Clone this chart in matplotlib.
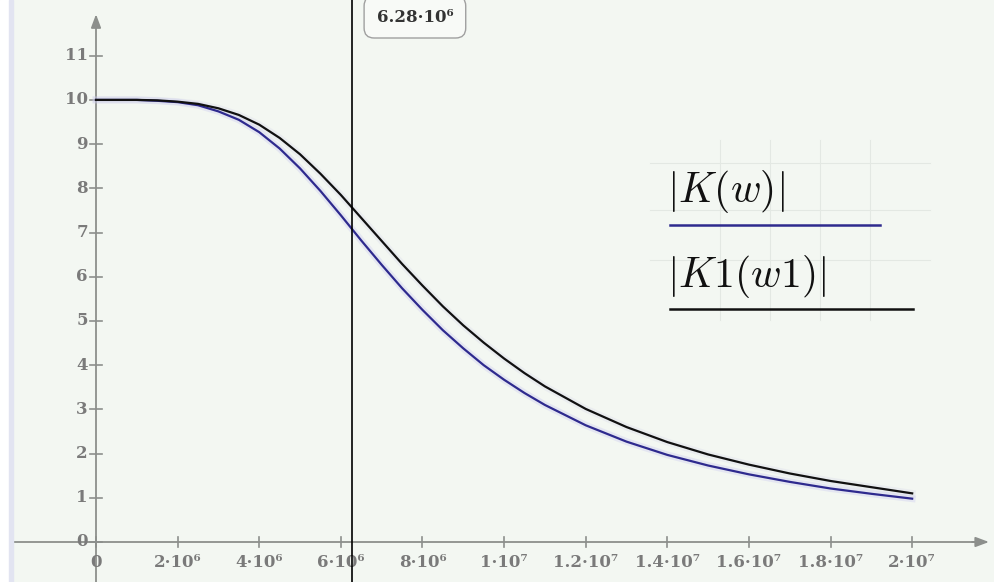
import matplotlib
matplotlib.use("Agg")
import matplotlib.pyplot as plt
from matplotlib.patches import Rectangle
from matplotlib.lines import Line2D

plt.rcParams['mathtext.fontset'] = 'cm'

# frequency grid (rad/s) and the two magnitude responses
w = [0, 1e6, 1.5e6, 2e6, 2.5e6, 3e6, 3.5e6, 4e6, 4.5e6, 5e6, 5.5e6, 6e6,
     6.5e6, 7e6, 7.5e6, 8e6, 8.5e6, 9e6, 9.5e6, 10e6, 10.5e6, 11e6, 12e6,
     13e6, 14e6, 15e6, 16e6, 17e6, 18e6, 19e6, 20e6]
K_w = [10.0, 10.0, 9.98, 9.95, 9.88, 9.74, 9.55, 9.27, 8.90, 8.45, 7.94, 7.39,
       6.82, 6.27, 5.74, 5.25, 4.79, 4.38, 4.00, 3.67, 3.37, 3.10, 2.64,
       2.27, 1.97, 1.73, 1.53, 1.36, 1.21, 1.09, 0.98]
K1_w1 = [10.0, 10.0, 9.99, 9.96, 9.91, 9.81, 9.66, 9.44, 9.14, 8.77, 8.33,
         7.85, 7.33, 6.81, 6.29, 5.80, 5.33, 4.90, 4.51, 4.15, 3.82, 3.52,
         3.01, 2.60, 2.26, 1.98, 1.75, 1.55, 1.38, 1.24, 1.10]

x_ticks = [0, 2e6, 4e6, 6e6, 8e6, 1e7, 1.2e7, 1.4e7, 1.6e7, 1.8e7, 2e7]
x_labels = ["0", "2·10⁶", "4·10⁶", "6·10⁶", "8·10⁶", "1·10⁷", "1.2·10⁷",
            "1.4·10⁷", "1.6·10⁷", "1.8·10⁷", "2·10⁷"]
y_ticks = list(range(12))
cursor_w = 6.28e6
cursor_label = "6.28·10⁶"

bg = "#f3f7f2"
axis_gray = "#8c8f8c"
label_gray = "#7a7a7a"
blue = "#2e2a8e"

fig = plt.figure(figsize=(9.95, 5.82), dpi=100, facecolor=bg)
ax = fig.add_axes([0, 0, 1, 1])
ax.set_xlim(-2.353e6, 22.03e6)
ax.set_ylim(-0.905, 12.26)
ax.axis('off')

# white margin and faint stripe at the left edge
fig.patches.append(Rectangle((0, 0), 9 / 995, 1, transform=fig.transFigure,
                             color="white", zorder=0))
fig.patches.append(Rectangle((9 / 995, 0), 4 / 995, 1, transform=fig.transFigure,
                             color="#e2e4f1", zorder=0))

# axes with arrows
ax.plot([-2.03e6, 21.6e6], [0, 0], color=axis_gray, lw=1.3, zorder=1)
ax.plot([0, 0], [-0.9, 11.7], color=axis_gray, lw=1.3, zorder=1)
ax.annotate("", xy=(21.95e6, 0), xytext=(21.4e6, 0),
            arrowprops=dict(arrowstyle="-|>,head_length=0.8,head_width=0.3",
                            color=axis_gray, lw=1.3))
ax.annotate("", xy=(0, 12.0), xytext=(0, 11.6),
            arrowprops=dict(arrowstyle="-|>,head_length=0.8,head_width=0.3",
                            color=axis_gray, lw=1.3))
ax.plot([-2.03e6, -2.03e6], [-0.1, 0.1], color=axis_gray, lw=1.2)

tick_font = dict(family="DejaVu Serif", fontweight="bold", fontsize=12,
                 color=label_gray)
for xt, lab in zip(x_ticks, x_labels):
    ax.plot([xt, xt], [-0.12, 0.12], color=axis_gray, lw=1.2)
    ax.text(xt, -0.47, lab, ha="center", va="center", **tick_font)
for yt in y_ticks:
    ax.plot([-0.15e6, 0.15e6], [yt, yt], color=axis_gray, lw=1.2)
    ax.text(-0.2e6, yt, str(yt), ha="right", va="center", **tick_font)

# soft halo then the curves
ax.plot(w, K_w, color="#c8c8f0", lw=5, alpha=0.35, zorder=2)
ax.plot(w, K1_w1, color="#d0d0e8", lw=5, alpha=0.25, zorder=2)
ax.plot(w, K_w, color=blue, lw=1.6, zorder=3)
ax.plot(w, K1_w1, color="#111111", lw=1.6, zorder=3)

# vertical cursor with its value tag
ax.axvline(cursor_w, color="black", lw=1.2, zorder=4)
ax.text(0.417, 1 - 17 / 582, cursor_label, transform=ax.transAxes,
        ha="center", va="center", family="DejaVu Serif", fontweight="bold",
        fontsize=12, color="#333333",
        bbox=dict(boxstyle="round,pad=0.75,rounding_size=0.6", fc="#f8faf7",
                  ec="#a0a0a0", lw=1.0), zorder=5)

# legend with faint grid
for gx in [720, 770, 820, 870]:
    fig.add_artist(Line2D([gx / 995] * 2, [1 - 140 / 582, 1 - 320 / 582],
                          color="#e3e8e3", lw=0.8))
for gy in [163, 210, 260]:
    fig.add_artist(Line2D([650 / 995, 930 / 995], [1 - gy / 582] * 2,
                          color="#e3e8e3", lw=0.8))
fig.text(667 / 995, 1 - 192 / 582, r"$|K(w)|$", fontsize=30, va="center",
         ha="left", color="#111111")
fig.add_artist(Line2D([670 / 995, 880 / 995], [1 - 225 / 582] * 2,
                      color=blue, lw=1.8))
fig.text(667 / 995, 1 - 276 / 582, r"$|K1(w1)|$", fontsize=30, va="center",
         ha="left", color="#111111")
fig.add_artist(Line2D([670 / 995, 913 / 995], [1 - 309 / 582] * 2,
                      color="#111111", lw=1.8))

fig.savefig("out.png", dpi=100, facecolor=bg)
